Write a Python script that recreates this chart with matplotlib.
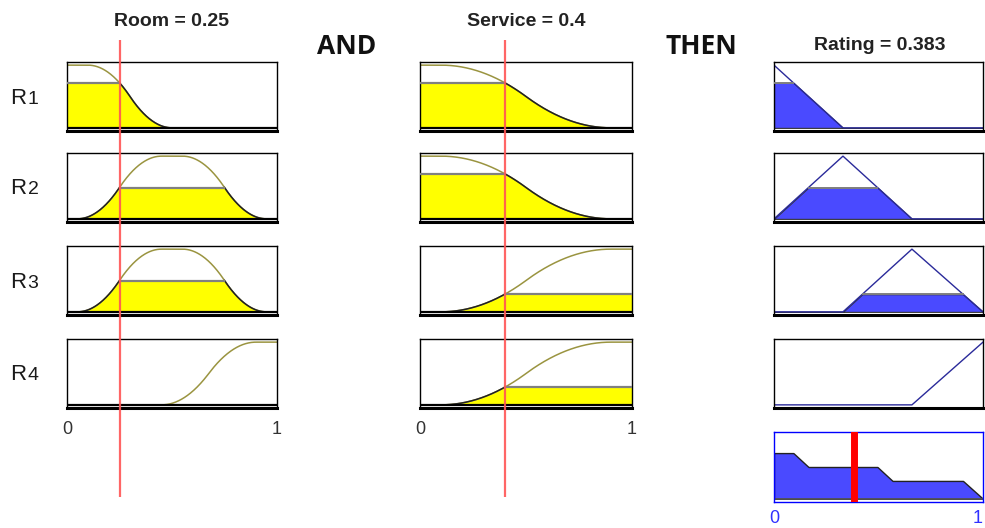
import numpy as np
import matplotlib
matplotlib.use("Agg")
import matplotlib.pyplot as plt

plt.rcParams["font.family"] = ["Liberation Sans", "DejaVu Sans"]

# inputs and defuzzified output
room_value = 0.25
service_value = 0.4
rating_value = 0.383

rule_names = ["1", "2", "3", "4"]

# membership functions per rule: (shape, params)
room_mfs = [("zmf", [0.1, 0.5]),
            ("pimf", [0.05, 0.45, 0.55, 0.95]),
            ("pimf", [0.05, 0.45, 0.55, 0.95]),
            ("smf", [0.45, 0.9])]
service_mfs = [("zmf", [0.1, 0.9]),
               ("zmf", [0.1, 0.9]),
               ("smf", [0.1, 0.9]),
               ("smf", [0.1, 0.9])]
rating_mfs = [("trimf", [-0.33, 0.0, 0.33]),
              ("trimf", [0.0, 0.33, 0.66]),
              ("trimf", [0.33, 0.66, 1.0]),
              ("trimf", [0.66, 1.0, 1.33])]


def smf(x, a, b):
    m = (a + b) / 2
    y = np.zeros_like(x)
    y = np.where((x > a) & (x <= m), 2 * ((x - a) / (b - a)) ** 2, y)
    y = np.where((x > m) & (x < b), 1 - 2 * ((x - b) / (b - a)) ** 2, y)
    y = np.where(x >= b, 1.0, y)
    return y


def zmf(x, a, b):
    return 1 - smf(x, a, b)


def pimf(x, a, b, c, d):
    return np.minimum(smf(x, a, b), zmf(x, c, d))


def trimf(x, a, b, c):
    up = (x - a) / (b - a)
    down = (c - x) / (c - b)
    return np.clip(np.minimum(up, down), 0, 1)


shapes = {"smf": smf, "zmf": zmf, "pimf": pimf, "trimf": trimf}


def evaluate(mf, x):
    name, params = mf
    return shapes[name](np.asarray(x, dtype=float), *params)


W, H = 985, 528
fig = plt.figure(figsize=(W / 100, H / 100), dpi=100)


def box(x0, y0, w, h):
    return [x0 / W, 1 - (y0 + h) / H, w / W, h / H]


col_x = {"room": (67, 210), "service": (420, 212), "rating": (774, 209)}
row_top = [62, 153, 246, 339]
row_h = 69

YELLOW = "#ffff00"
OLIVE = "#9a9440"
BLUE = "#4a4aff"
NAVY = "#2a2a9a"
LEVEL = "#808080"

x = np.linspace(0, 1, 501)


def style_box(ax, color="black"):
    ax.set_xlim(0, 1)
    ax.set_ylim(-0.05, 1.05)
    ax.set_xticks([])
    ax.set_yticks([])
    for side in ["top", "left", "right"]:
        ax.spines[side].set_linewidth(1.0)
        ax.spines[side].set_color(color)
    ax.spines["bottom"].set_linewidth(2.2 if color == "black" else 1.0)
    ax.spines["bottom"].set_color(color)


def input_panel(ax, mf, value):
    mu = evaluate(mf, x)
    level = float(evaluate(mf, value))
    clipped = np.minimum(mu, level)
    ax.plot(x, mu, color=OLIVE, lw=1.1, zorder=2)
    if level > 0.01:
        ax.fill_between(x, 0, clipped, color=YELLOW, lw=0, zorder=1)
        above = mu > level
        ax.plot(x, np.where(above, np.nan, mu), color="#222222", lw=1.1, zorder=3)
        ax.plot(x, np.where(above, level, np.nan), color=LEVEL, lw=1.6, zorder=3)
    ax.axhline(0, color="black", lw=1.6, zorder=3)
    style_box(ax)
    return level


aggregate = np.zeros_like(x)
for i in range(4):
    top = row_top[i]
    ax_r = fig.add_axes(box(col_x["room"][0], top, col_x["room"][1], row_h))
    lr = input_panel(ax_r, room_mfs[i], room_value)
    ax_s = fig.add_axes(box(col_x["service"][0], top, col_x["service"][1], row_h))
    ls = input_panel(ax_s, service_mfs[i], service_value)

    strength = min(lr, ls)
    ax_o = fig.add_axes(box(col_x["rating"][0], top, col_x["rating"][1], row_h))
    mu = evaluate(rating_mfs[i], x)
    ax_o.plot(x, mu, color=NAVY, lw=1.0, zorder=2)
    if strength > 0.01:
        clipped = np.minimum(mu, strength)
        aggregate = np.maximum(aggregate, clipped)
        ax_o.fill_between(x, 0, clipped, facecolor=BLUE, edgecolor="#333333",
                          lw=0.8, zorder=1)
        above = mu > strength
        ax_o.plot(x, np.where(above, strength, np.nan), color=LEVEL, lw=1.4, zorder=3)
    style_box(ax_o)

    fig.text(18 / W, 1 - (top + 36) / H, "R", fontsize=16, ha="center", va="center",
             color="#1a1a1a")
    fig.text(33 / W, 1 - (top + 37) / H, rule_names[i], fontsize=14, ha="center",
             va="center", color="#1a1a1a")

# aggregated output
ax_a = fig.add_axes(box(col_x["rating"][0], 432, col_x["rating"][1], 70))
ax_a.fill_between(x, 0, aggregate, facecolor=BLUE, edgecolor="#222222", lw=1.0)
ax_a.axhline(0, color="#555555", lw=1.2)
ax_a.axvline(rating_value, ymin=0.02, ymax=0.98, color="#ff0000", lw=5, zorder=4)
style_box(ax_a, color="#0000ff")
ax_a.text(0, -0.12, "0", transform=ax_a.transAxes, ha="center", va="top",
          fontsize=13, color="#3030ff")
ax_a.text(1, -0.12, "1", transform=ax_a.transAxes, ha="right", va="top",
          fontsize=13, color="#3030ff")

# axis end labels under the last input row
for key in ["room", "service"]:
    x0, w = col_x[key]
    fig.text(x0 / W, 1 - 429 / H, "0", fontsize=13, ha="center", va="center", color="#333333")
    fig.text((x0 + w) / W, 1 - 429 / H, "1", fontsize=13, ha="center", va="center", color="#333333")

# input cursors across all rows
for key, value in [("room", room_value), ("service", service_value)]:
    x0, w = col_x[key]
    ov = fig.add_axes(box(x0, 40, w, 457))
    ov.set_xlim(0, 1)
    ov.axis("off")
    ov.axvline(value, color="#ff5555", lw=1.6, alpha=0.9)

fig.text(172 / W, 1 - 22 / H, "Room = %g" % room_value, fontsize=14,
         fontweight="bold", ha="center", va="center", color="#222222")
fig.text(526 / W, 1 - 22 / H, "Service = %g" % service_value, fontsize=14,
         fontweight="bold", ha="center", va="center", color="#222222")
fig.text(880 / W, 1 - 45 / H, "Rating = %g" % rating_value, fontsize=14,
         fontweight="bold", ha="center", va="center", color="#222222")
fig.text(347 / W, 1 - 46 / H, "AND", fontsize=19, fontweight="bold",
         family=["Open Sans", "DejaVu Sans"], ha="center", va="center", color="#111111")
fig.text(701 / W, 1 - 46 / H, "THEN", fontsize=19, fontweight="bold",
         family=["Open Sans", "DejaVu Sans"], ha="center", va="center", color="#111111")

fig.savefig("out.png", dpi=100)
